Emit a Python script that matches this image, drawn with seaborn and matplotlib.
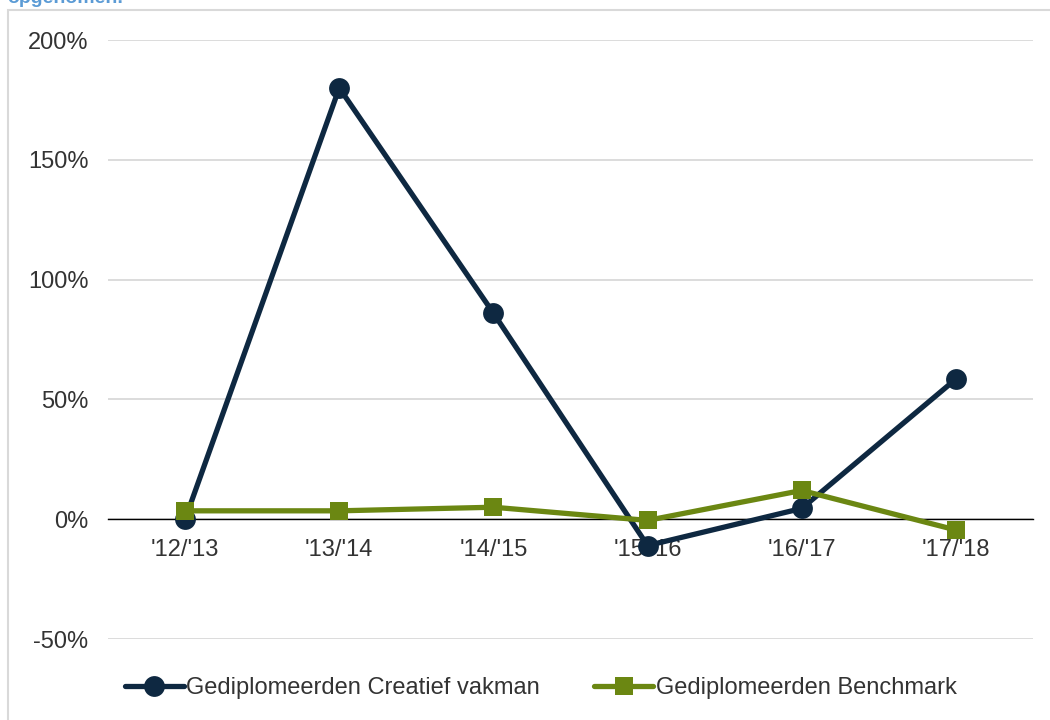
import matplotlib
matplotlib.use("Agg")
import matplotlib.pyplot as plt
from matplotlib.patches import Rectangle
from matplotlib.ticker import PercentFormatter
import seaborn as sns
import pandas as pd

# =========================
# DATA
# =========================
years = ["'12/'13", "'13/'14", "'14/'15", "'15/'16", "'16/'17", "'17/'18"]
creatief = [0, 180, 86, -11, 4.5, 58.5]
benchmark = [3.5, 3.5, 5, -0.5, 12, -4.5]
series_names = ["Gediplomeerden Creatief vakman", "Gediplomeerden Benchmark"]
y_ticks = [-50, 0, 50, 100, 150, 200]

navy = "#0E2841"
green = "#6B8712"

df = pd.DataFrame({
    "jaar": years * 2,
    "waarde": creatief + benchmark,
    "reeks": [series_names[0]] * len(years) + [series_names[1]] * len(years),
})

# =========================
# PLOT
# =========================
sns.set_style("white")
plt.rcParams["font.family"] = ["Liberation Sans", "DejaVu Sans"]
plt.rcParams["axes.unicode_minus"] = False

fig = plt.figure(figsize=(10.5, 7.2), dpi=100)
ax = fig.add_axes([0.1029, 0.1125, 0.8809, 0.8319])

sns.lineplot(data=df[df.reeks == series_names[0]], x="jaar", y="waarde",
             color=navy, marker="o", markersize=15, linewidth=3.8,
             markeredgewidth=0, sort=False, label=series_names[0], ax=ax)
sns.lineplot(data=df[df.reeks == series_names[1]], x="jaar", y="waarde",
             color=green, marker="s", markersize=13, linewidth=3.8,
             markeredgewidth=0, sort=False, label=series_names[1], ax=ax)

ax.set_xlim(-0.5, len(years) - 0.5)
ax.set_ylim(-50, 200)
ax.set_yticks(y_ticks)
ax.yaxis.set_major_formatter(PercentFormatter(decimals=0))
ax.grid(axis="y", color="#D9D9D9", linewidth=1.3)
ax.set_axisbelow(True)

for s in ["top", "right", "left"]:
    ax.spines[s].set_visible(False)
ax.spines["bottom"].set_position(("data", 0))
ax.spines["bottom"].set_color("black")
ax.spines["bottom"].set_linewidth(1)
ax.spines["bottom"].set_zorder(1)

ax.tick_params(axis="x", length=0, pad=14, labelsize=17, labelcolor="#333333")
ax.tick_params(axis="y", length=0, pad=14, labelsize=17, labelcolor="#333333")
ax.set_xlabel("")
ax.set_ylabel("")

ax.legend(loc="center", bbox_to_anchor=(0.515, 0.044), bbox_transform=fig.transFigure,
          ncol=2, frameon=False, fontsize=17, handlelength=2.5, handletextpad=0.1,
          columnspacing=2.3, labelcolor="#333333")

# chart frame + cut-off heading
fig.patches.append(Rectangle((8 / 1050, -0.01), 1.1, 1 - 10 / 720 + 0.01,
                             transform=fig.transFigure, fill=False,
                             edgecolor="#D9D9D9", linewidth=1.5))
fig.text(0.007, 1 - 3 / 720, "opgenomen.", color="#5B9BD5", fontsize=14,
         fontweight="bold", va="baseline", ha="left")

plt.savefig("out.png", dpi=100)
